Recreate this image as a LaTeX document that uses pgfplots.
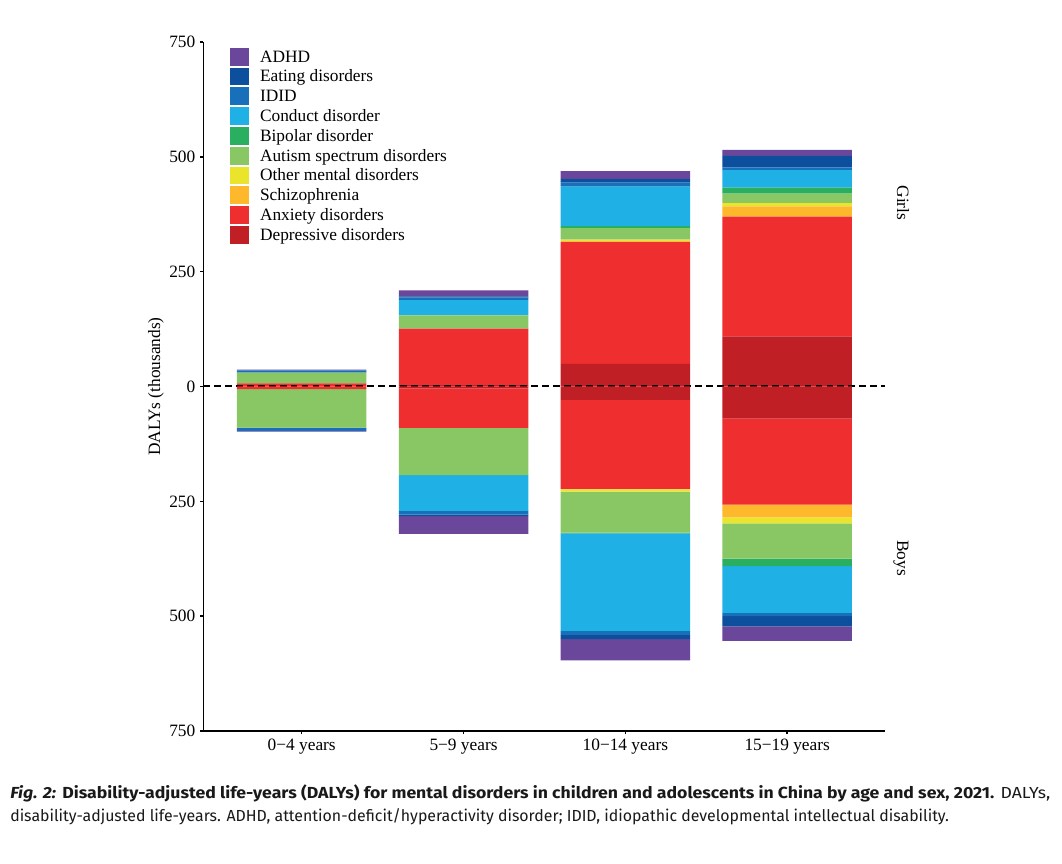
\documentclass[border=0pt]{standalone}
\usepackage{fontspec}
\setmainfont{Liberation Serif}
\newfontfamily\capfont{Fira Sans}
\usepackage{graphicx}
\usepackage{pgfplots}
\pgfplotsset{compat=1.18}
\usepackage{pgfplotstable}

\definecolor{cadhd}{HTML}{6A479B}
\definecolor{ceat}{HTML}{0C4F9C}
\definecolor{cidid}{HTML}{1770B9}
\definecolor{ccon}{HTML}{1FB0E6}
\definecolor{cbip}{HTML}{2AAF60}
\definecolor{caut}{HTML}{89C765}
\definecolor{coth}{HTML}{EAE52B}
\definecolor{csch}{HTML}{FDB92B}
\definecolor{canx}{HTML}{EE2E2F}
\definecolor{cdep}{HTML}{C11F26}

\pgfplotstableread{
x dep anx sch oth aut bip con idid eat adhd
0 0 7 0 0 23 0 0 5 0 1.5
1 3 123 0 0 29 0 33 6 2 13
2 49 266 1 4 25 4 86 9 8 17
3 109 261 22 7 21 13 38 6 25 13
}\girls
\pgfplotstableread{
x dep anx sch oth aut bip con idid eat adhd
0 0 -5.5 0 0 -84 0 0 -7 0 -2
1 -4 -86 0 0 -103 0 -78 -8 -3 -39
2 -29 -194 -1 -5 -89 -2 -212 -9 -9 -46
3 -70 -187 -28 -13 -77 -16 -102 -7 -22 -32
}\boys

\pgfplotsset{
  mybase/.style={scale only axis, width=511.3pt, height=516.75pt,
    at={(152.5pt,99pt)}, anchor=south west,
    xmin=-0.608, xmax=3.605, ymin=-750, ymax=750,
    ybar stacked, bar width=0.8, clip=false},
  leg/.style={draw=none, /pgfplots/legend image code/.code={\fill[##1] (0pt,-6.3pt) rectangle (14pt,7.1pt);}},
}

\begin{document}
\begin{tikzpicture}
\path[use as bounding box] (0,0) rectangle (796.5pt,647.25pt);
\begin{axis}[mybase,
  axis x line*=bottom, axis y line*=left,
  axis line style={line width=1.1pt, black},
  tick style={line width=1.1pt, black},
  tick align=outside, major tick length=2.5pt,
  xtick={0,1,2,3},
  xticklabels={0−4 years,5−9 years,10−14 years,15−19 years},
  ytick={-750,-500,-250,0,250,500,750},
  yticklabels={750,500,250,0,250,500,750},
  tick label style={font=\fontsize{13}{15}\selectfont},
  reverse legend, legend cell align=left,
  legend style={at={(0.0392,0.9923)}, anchor=north west, draw=none, fill=none,
    inner sep=0pt, outer sep=0pt, row sep=0pt,
    font=\fontsize{13}{15}\selectfont,
    nodes={inner sep=0pt, text height=11.1pt, text depth=3.75pt},
    /tikz/every odd column/.append style={column sep=8.5pt}},
]
\addplot[leg, fill=cdep] table[x=x,y=dep]{\girls};
\addlegendentry{Depressive disorders}
\addplot[leg, fill=canx] table[x=x,y=anx]{\girls};
\addlegendentry{Anxiety disorders}
\addplot[leg, fill=csch] table[x=x,y=sch]{\girls};
\addlegendentry{Schizophrenia}
\addplot[leg, fill=coth] table[x=x,y=oth]{\girls};
\addlegendentry{Other mental disorders}
\addplot[leg, fill=caut] table[x=x,y=aut]{\girls};
\addlegendentry{Autism spectrum disorders}
\addplot[leg, fill=cbip] table[x=x,y=bip]{\girls};
\addlegendentry{Bipolar disorder}
\addplot[leg, fill=ccon] table[x=x,y=con]{\girls};
\addlegendentry{Conduct disorder}
\addplot[leg, fill=cidid] table[x=x,y=idid]{\girls};
\addlegendentry{IDID}
\addplot[leg, fill=ceat] table[x=x,y=eat]{\girls};
\addlegendentry{Eating disorders}
\addplot[leg, fill=cadhd] table[x=x,y=adhd]{\girls};
\addlegendentry{ADHD}
\end{axis}
\begin{axis}[mybase, hide axis]
\addplot[draw=none, fill=cdep] table[x=x,y=dep]{\boys};
\addplot[draw=none, fill=canx] table[x=x,y=anx]{\boys};
\addplot[draw=none, fill=csch] table[x=x,y=sch]{\boys};
\addplot[draw=none, fill=coth] table[x=x,y=oth]{\boys};
\addplot[draw=none, fill=caut] table[x=x,y=aut]{\boys};
\addplot[draw=none, fill=cbip] table[x=x,y=bip]{\boys};
\addplot[draw=none, fill=ccon] table[x=x,y=con]{\boys};
\addplot[draw=none, fill=cidid] table[x=x,y=idid]{\boys};
\addplot[draw=none, fill=ceat] table[x=x,y=eat]{\boys};
\addplot[draw=none, fill=cadhd] table[x=x,y=adhd]{\boys};
\draw[black, line width=1.5pt, dash pattern=on 5pt off 3.2pt] (axis cs:-0.608,0) -- (axis cs:3.605,0);
\end{axis}
\node[rotate=90, font=\fontsize{13}{15}\selectfont] at (117pt,357.4pt) {DALYs (thousands)};
\node[rotate=-90, anchor=base, font=\fontsize{13}{15}\selectfont] at (672.75pt,495pt) {Girls};
\node[rotate=-90, anchor=base, font=\fontsize{13}{15}\selectfont] at (672.75pt,228.75pt) {Boys};
\node[anchor=base west, inner sep=0pt, text=black!90] at (7.5pt,48.75pt) {\resizebox{780pt}{\height}{\capfont\fontsize{12}{14}\selectfont{\bfseries\itshape Fig. 2:} {\bfseries Disability-adjusted life-years (DALYs) for mental disorders in children and adolescents in China by age and sex, 2021.} DALYs,}};
\node[anchor=base west, inner sep=0pt, text=black!90] at (7.5pt,31.5pt) {\resizebox{704pt}{\height}{\capfont\fontsize{12}{14}\selectfont disability-adjusted life-years. ADHD, attention-deficit/hyperactivity disorder; IDID, idiopathic developmental intellectual disability.}};
\end{tikzpicture}
\end{document}
